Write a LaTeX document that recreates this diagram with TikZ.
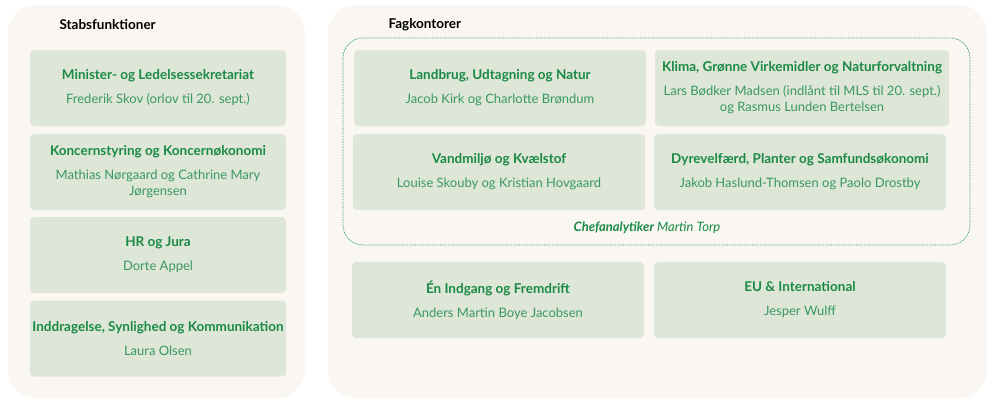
\documentclass[tikz,border=0pt]{standalone}
\usepackage{fontspec}
\setmainfont{Lato}
\definecolor{panelbg}{HTML}{FAF7F2}
\definecolor{boxfill}{HTML}{DDE6D7}
\definecolor{ttl}{HTML}{1A8A45}
\definecolor{nm}{HTML}{3A9862}
\definecolor{dashc}{HTML}{45A872}
\newcommand\unittext[2]{\textcolor{ttl}{\fontsize{13.5}{16}\selectfont\bfseries #1}\\[8pt]#2}
\tikzset{
  panel/.style={fill=panelbg, rounded corners=28pt},
  unit/.style={fill=boxfill, rounded corners=4pt, minimum height=76pt, align=center,
    inner sep=1pt, text=nm, font=\fontsize{13}{16}\selectfont},
  lunit/.style={unit, minimum width=256pt},
  runit/.style={unit, minimum width=292pt},
  paneltitle/.style={anchor=west, font=\fontsize{13.5}{15}\selectfont\bfseries, text=black},
  groupbox/.style={draw=dashc, dashed, dash pattern=on 1.6pt off 1pt, line width=0.7pt, rounded corners=20pt}
}
\begin{document}
\begin{tikzpicture}[x=1pt,y=-1pt]
\useasboundingbox (0,0) rectangle (992,402);
\fill[panel] (8,5) rectangle (305,398);
\fill[panel] (328,5) rectangle (987,398);
\node[paneltitle] (stabs) at (56,25) {Stabsfunktioner};
\node[paneltitle] (fag) at (385,25) {Fagkontorer};

\node[lunit] (min) at (158,88) {\unittext{Minister- og Ledelsessekretariat}{Frederik Skov (orlov til 20. sept.)}};
\node[lunit] (kon) at (158,172) {\unittext{Koncernstyring og Koncernøkonomi}{Mathias Nørgaard og Cathrine Mary\\Jørgensen}};
\node[lunit] (hr) at (158,255) {\unittext{HR og Jura}{Dorte Appel}};
\node[lunit] (ind) at (158,338.5) {\unittext{Inddragelse, Synlighed og Kommunikation}{Laura Olsen}};

\draw[groupbox] (343,38) rectangle (970,245);
\node[runit] (land) at (500,88) {\unittext{Landbrug, Udtagning og Natur}{Jacob Kirk og Charlotte Brøndum}};
\node[runit, minimum width=294pt] (klima) at (802,88) {\unittext{Klima, Grønne Virkemidler og Naturforvaltning}{Lars Bødker Madsen (indlånt til MLS til 20. sept.)\\og Rasmus Lunden Bertelsen}};
\node[runit] (vand) at (499,172) {\unittext{Vandmiljø og Kvælstof}{Louise Skouby og Kristian Hovgaard}};
\node[runit] (dyr) at (800,172) {\unittext{Dyrevelfærd, Planter og Samfundsøkonomi}{Jakob Haslund-Thomsen og Paolo Drostby}};
\node[font=\fontsize{13}{15}\selectfont\itshape, text=ttl] (chef) at (647,228) {{\bfseries Chefanalytiker} Martin Torp};

\node[runit] (en) at (498,300) {\unittext{Én Indgang og Fremdrift}{Anders Martin Boye Jacobsen}};
\node[runit] (eu) at (800,300) {\unittext{EU \& International}{Jesper Wulff}};
\end{tikzpicture}
\end{document}
